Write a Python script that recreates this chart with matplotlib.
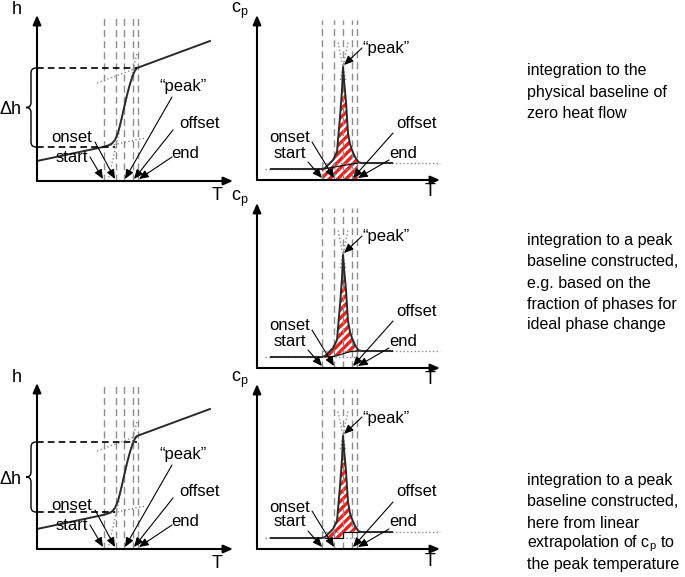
import matplotlib.pyplot as plt
from matplotlib.path import Path
from matplotlib.patches import PathPatch

plt.rcParams['font.family'] = ['Liberation Sans', 'DejaVu Sans']
plt.rcParams['mathtext.default'] = 'regular'
plt.rcParams['hatch.linewidth'] = 2.4

W, H = 685, 577

# enthalpy curve h(T), panel units (T right of the axis, h above it)
h_T = [0, 60, 66, 71, 75, 78, 81, 84, 87, 90, 93, 96, 98, 100, 104, 173]
h_val = [20, 32.7, 34, 35.5, 37.5, 41, 48, 60, 73, 86, 97, 106, 110.5, 113, 114.5, 140]

# characteristic temperatures: start, onset, peak, offset, end
h_marks = [67, 79, 87, 96, 101]
cp_marks = [65, 77, 86, 95, 100]

# delta h levels (top row, bottom row)
dh_top = [113, 34]
dh_bottom = [107, 37]

# heat capacity peak cp(T)
cp_T = [14, 65, 68, 71, 76, 80, 81, 83, 85, 86, 87, 89, 91, 93, 95, 98, 100, 102, 105, 135]
cp_val = [11, 11, 12, 15, 20, 28, 40, 63, 90, 113, 100, 78, 47, 36, 30, 23, 20, 17.5, 17, 17]
cp_low, cp_high = 11, 17

# peak baselines
sig_T = [68, 76, 80, 83, 86, 89, 92, 96, 102]
sig_val = [11, 11.5, 12.3, 13.2, 14.2, 15.2, 16, 16.7, 17]
step_T = [68, 86, 86, 102]
step_val = [11, 11, 17, 17]

labels = ["start", "onset", "\u201cpeak\u201d", "offset", "end"]

texts = {
    "top": ["integration to the", "physical baseline of", "zero heat flow"],
    "mid": ["integration to a peak", "baseline constructed,", "e.g. based on the",
            "fraction of phases for", "ideal phase change"],
    "bottom": ["integration to a peak", "baseline constructed,", "here from linear",
               "extrapolation of c$_p$ to", "the peak temperature"],
}

FS = 11.5
LFS = 12
GRAY = "#8c8c8c"
RED = "#e8231f"

fig = plt.figure(figsize=(W / 100, H / 100), dpi=100)


def panel(ox, oy):
    # one unit = one pixel, origin at the corner of the plot axes
    l, r, b, t = -40, 210, -25, 185
    ax = fig.add_axes([(ox + l) / W, (H - oy + b) / H, (r - l) / W, (t - b) / H])
    ax.set_xlim(l, r)
    ax.set_ylim(b, t)
    ax.axis("off")
    return ax


def arrow(ax, start, tip, lw=0.8):
    ax.annotate("", xy=tip, xytext=start, annotation_clip=False,
                arrowprops=dict(arrowstyle="-|>,head_length=0.7,head_width=0.3",
                                color="k", lw=lw, shrinkA=0, shrinkB=0, mutation_scale=8))


def frame(ax, xend, yend, ylab, ylab_xy, tlab_xy):
    arrow(ax, (0, 0), (0, yend), lw=1.5)
    arrow(ax, (0, 0), (xend, 0), lw=1.5)
    ax.text(*ylab_xy, ylab, fontsize=LFS + 1, ha="center", va="center")
    ax.text(*tlab_xy, "T", fontsize=LFS + 1, ha="center", va="center")


def brace(ax, top, low, x0=-1, x1=-6, x2=-11):
    mid = (top + low) / 2
    verts = [(x0, top), (x1, top), (x1, top - 5), (x1, mid + 5), (x1, mid), (x2, mid),
             (x1, mid), (x1, mid - 5), (x1, low + 5), (x1, low), (x0, low)]
    codes = [Path.MOVETO, Path.CURVE3, Path.CURVE3, Path.LINETO, Path.CURVE3, Path.CURVE3,
             Path.CURVE3, Path.CURVE3, Path.LINETO, Path.CURVE3, Path.CURVE3]
    ax.add_patch(PathPatch(Path(verts, codes), fill=False, lw=1.0, color="k"))


def h_panel(ox, oy, dh):
    ax = panel(ox, oy)
    for x in h_marks:
        ax.plot([x, x], [0, 163], color=GRAY, lw=1, dashes=(5, 3))
    # construction lines
    ax.plot([60, 100], [98, 113], color=GRAY, lw=1, ls=":")
    ax.plot([66, 108], [34, 43], color=GRAY, lw=1, ls=":")
    ax.plot([71, 100], [0, 128], color=GRAY, lw=1, ls=":")
    ax.plot(h_T, h_val, color="#2a2a2a", lw=1.4)
    ax.plot([0, 100], [dh[0], dh[0]], color="k", lw=1.2, dashes=(4, 2.5))
    ax.plot([0, 78], [dh[1], dh[1]], color="k", lw=1.2, dashes=(4, 2.5))
    brace(ax, dh[0], dh[1])
    ax.text(-15, (dh[0] + dh[1]) / 2 - 2, "\u0394h", fontsize=LFS + 1, ha="right", va="center")
    frame(ax, 196, 166, "h", (-20, 172), (180, -14))
    pos = [(19, 23), (14, 43), (122, 94), (142, 58), (134, 28)]
    tails = [(53, 24), (58, 39), (135, 84), (136, 51), (135, 24)]
    tips = [(66, 2), (78, 2), (88, 2), (97, 2), (102, 2)]
    for lab, p, a, b in zip(labels, pos, tails, tips):
        ax.text(p[0], p[1], lab, fontsize=LFS, ha="left", va="center")
        arrow(ax, a, b)
    return ax


def cp_panel(ox, oy, kind):
    ax = panel(ox, oy)
    for x in cp_marks:
        ax.plot([x, x], [0, 160], color=GRAY, lw=1, dashes=(5, 3))
    ax.plot([8, 100], [cp_low, cp_low], color=GRAY, lw=1, ls=":")
    ax.plot([65, 183], [cp_high, cp_high], color=GRAY, lw=1, ls=":")
    ax.plot([83.4, 91], [100, 138], color=GRAY, lw=1, ls=":")
    ax.plot([88.6, 81], [100, 138], color=GRAY, lw=1, ls=":")

    hatch = dict(facecolor="white", edgecolor=RED, hatch="////", lw=0)
    if kind == "zero":
        xs = [t for t in cp_T if 65 <= t <= 100]
        ys = [v for t, v in zip(cp_T, cp_val) if 65 <= t <= 100]
        ax.fill(xs + [xs[-1], xs[0]], ys + [0, 0], **hatch)
        ax.plot([66, 101], [cp_low, cp_high], color="k", lw=0.8)
    else:
        bt, bv = (sig_T, sig_val) if kind == "sigmoid" else (step_T, step_val)
        xs = [t for t in cp_T if bt[0] <= t <= bt[-1]]
        ys = [v for t, v in zip(cp_T, cp_val) if bt[0] <= t <= bt[-1]]
        ax.fill(xs + bt[::-1], ys + bv[::-1], **hatch)
        ax.plot(bt, bv, color="k", lw=0.8)
    ax.plot(cp_T, cp_val, color="#2a2a2a", lw=1.4)

    frame(ax, 183, 165, "c$_p$", (-17, 169), (173, -12))
    pos = [(17, 27), (12, 42), (105, 131), (139, 57), (132, 27)]
    tails = [(51, 18), (55, 38), (105, 132), (136, 47), (132, 20)]
    tips = [(65, 2), (77, 2), (87, 115), (96, 2), (101, 2)]
    for lab, p, a, b in zip(labels, pos, tails, tips):
        ax.text(p[0], p[1], lab, fontsize=LFS, ha="left", va="center")
        arrow(ax, a, b)
    return ax


h_panel(37, 181, dh_top)
cp_panel(257, 180, "zero")
cp_panel(257, 368, "sigmoid")
h_panel(37, 549, dh_bottom)
cp_panel(257, 549, "step")

rows = {"top": [71, 92, 113], "mid": [241, 262, 283, 304, 325], "bottom": [481, 502, 523, 544, 565]}
for key, ys in rows.items():
    for line, y in zip(texts[key], ys):
        fig.text(527 / W, 1 - y / H, line, fontsize=FS, ha="left", va="center")

fig.savefig("out.png", dpi=100)
